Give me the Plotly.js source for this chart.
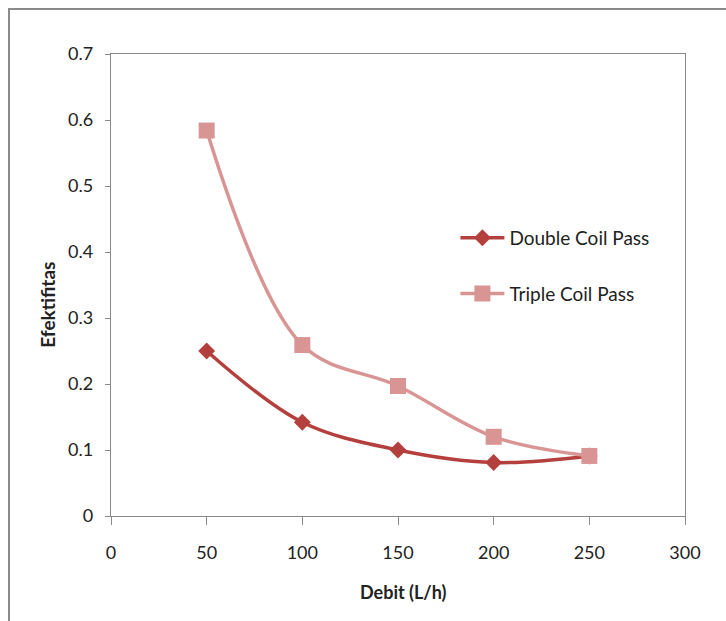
<!DOCTYPE html>
<html>
<head>
<meta charset="utf-8">
<script src="https://cdn.plot.ly/plotly-3.0.1.min.js"></script>
<style>
html,body{margin:0;padding:0;background:#fff;}
#wrap{position:relative;width:726px;height:621px;overflow:hidden;}
#frame{position:absolute;left:8px;top:8px;width:740px;height:640px;border:2px solid #8a8a8a;box-sizing:border-box;pointer-events:none;}
#chart{position:absolute;left:0;top:0;width:726px;height:621px;}
</style>
</head>
<body>
<div id="wrap">
<div id="chart"></div>
<div id="frame"></div>
</div>
<script>
const debit = [50, 100, 150, 200, 250];
const doubleCoil = [0.25, 0.142, 0.10, 0.081, 0.091];
const tripleCoil = [0.584, 0.259, 0.197, 0.12, 0.091];
const xTicks = [0, 50, 100, 150, 200, 250, 300];
const yTicks = [0, 0.1, 0.2, 0.3, 0.4, 0.5, 0.6, 0.7];
const yTickText = ['0', '0.1', '0.2', '0.3', '0.4', '0.5', '0.6', '0.7'];
const xTitle = 'Debit (L/h)';
const yTitle = 'Efektifitas';

const font = 'Lato, "Open Sans", sans-serif';

const traces = [
  {
    x: debit, y: doubleCoil, name: 'Double Coil Pass', type: 'scatter', mode: 'lines+markers',
    line: {color: '#B4403E', width: 3.5, shape: 'spline', smoothing: 1},
    marker: {symbol: 'diamond', size: 13, color: '#B4403E'},
    legendgroup: 'a'
  },
  {
    x: debit, y: tripleCoil, name: 'Triple Coil Pass', type: 'scatter', mode: 'lines+markers',
    line: {color: '#D99594', width: 3.5, shape: 'spline', smoothing: 1},
    marker: {symbol: 'square', size: 16, color: '#D99594'},
    legendgroup: 'b'
  }
];

const layout = {
  width: 726, height: 621,
  margin: {l: 111, r: 41, t: 54, b: 105},
  paper_bgcolor: '#fff', plot_bgcolor: '#fff',
  font: {family: font, color: '#222', size: 18},
  showlegend: true,
  legend: {
    x: 0.6, y: 0.643, xanchor: 'left', yanchor: 'top',
    traceorder: 'grouped', tracegroupgap: 28,
    font: {family: font, size: 19, color: '#222'},
    itemwidth: 44, bgcolor: 'rgba(0,0,0,0)'
  },
  xaxis: {
    range: [0, 300], tickvals: xTicks, ticktext: xTicks.map(String),
    showgrid: false, zeroline: false, showline: true, mirror: true,
    linecolor: '#8a8a8a', linewidth: 1.2,
    ticks: 'outside', ticklen: 8, tickcolor: '#8a8a8a', ticklabelstandoff: 12,
    tickfont: {family: font, size: 18, color: '#222'}
  },
  yaxis: {
    range: [0, 0.7], tickvals: yTicks, ticktext: yTickText,
    showgrid: false, zeroline: false, showline: true, mirror: true,
    linecolor: '#8a8a8a', linewidth: 1.2,
    ticks: 'outside', ticklen: 5, tickcolor: '#8a8a8a', ticklabelstandoff: 8,
    tickfont: {family: font, size: 18, color: '#222'}
  },
  annotations: [
    {text: '<b>' + xTitle + '</b>', xref: 'paper', yref: 'paper', x: 0.509, y: -0.1645,
     xanchor: 'center', yanchor: 'middle', showarrow: false,
     font: {family: font, size: 18, color: '#222'}},
    {text: '<b>' + yTitle + '</b>', xref: 'paper', yref: 'paper', x: -0.11, y: 0.457,
     xanchor: 'center', yanchor: 'middle', showarrow: false, textangle: -90,
     font: {family: font, size: 19, color: '#222'}}
  ]
};

Plotly.newPlot('chart', traces, layout, {displayModeBar: false, staticPlot: true});
</script>
</body>
</html>
